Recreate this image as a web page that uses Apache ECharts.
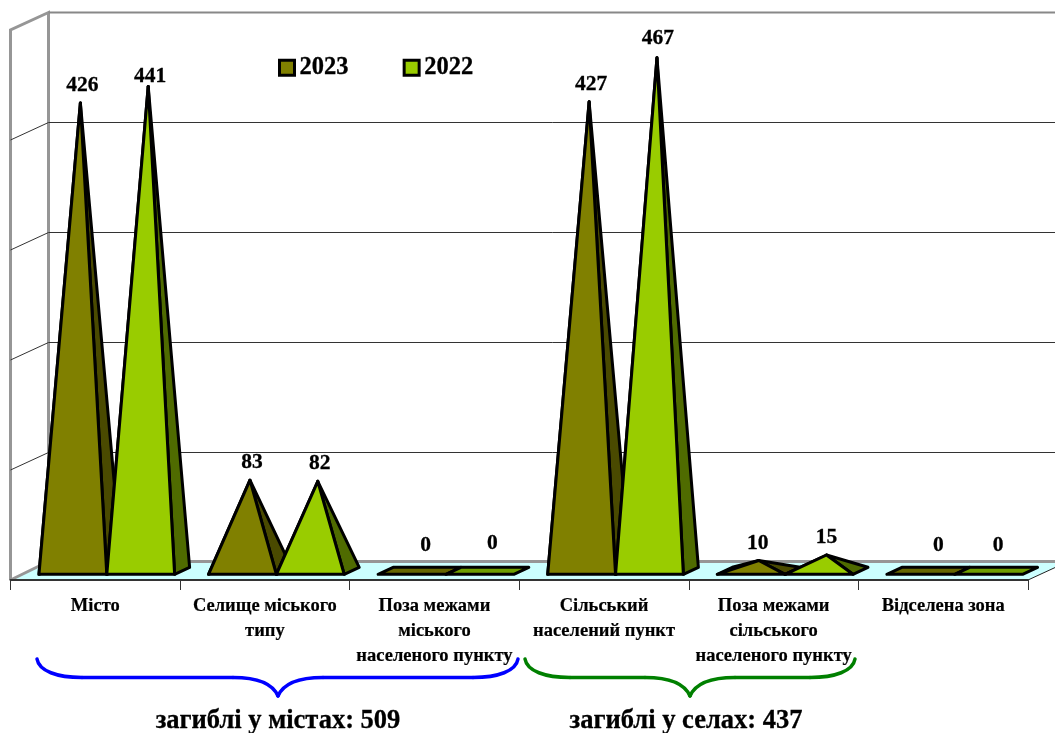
<!DOCTYPE html>
<html>
<head>
<meta charset="utf-8">
<script src="https://cdn.jsdelivr.net/npm/echarts@6/dist/echarts.min.js"></script>
<style>html,body{margin:0;padding:0;background:#fff}#c{width:1055px;height:733px}</style>
</head>
<body>
<div id="c"></div>
<script>
// ---- data ----
const categories = [
  'Місто',
  'Селище міського\nтипу',
  'Поза межами\nміського\nнаселеного пункту',
  'Сільський\nнаселений пункт',
  'Поза межами\nсільського\nнаселеного пункту',
  'Відселена зона'
];
const values2023 = [426, 83, 0, 427, 10, 0];
const values2022 = [441, 82, 0, 467, 15, 0];
const valueTicks = [0, 100, 200, 300, 400, 500];
const groupNotes = ['загиблі у містах: 509', 'загиблі у селах: 437'];

// ---- styling ----
const SERIF = '"Liberation Serif"';
const WALL_DX = 38, WALL_DY = -17.5;
const BASE_DX = 11.5, BASE_DY = -5.7, DEPTH_DX = 15, DEPTH_DY = -7;
const APEX_DX = 7.5, APEX_DY = -8.5;
const labelNudge = {
  '2022-0': [0, 8], '2022-3': [-1, -2],
  '2023-2': [4, -9], '2022-2': [3, -11], '2023-5': [8, -9], '2022-5': [0, -9],
  '2023-4': [-3, 0], '2022-4': [-2, 0]
};
const palette = {
  '2023': {front: '#808000', side: '#4a4a00', flat: '#666600'},
  '2022': {front: '#99cc00', side: '#4f6b00', flat: '#6f9e00'}
};

function wallItem(params, api) {
  const r = params.coordSys;
  const v = api.value(0);
  const y = api.coord([0, v])[1];
  const L = r.x, R = r.x + r.width;
  const children = [];
  if (v === 0) {
    children.push({type: 'polygon', shape: {points: [[L, y], [L + WALL_DX, y + WALL_DY], [R + WALL_DX, y + WALL_DY], [R, y]]},
      style: {fill: '#ccffff', stroke: null}});
    children.push({type: 'polyline', shape: {points: [[L, y], [L + WALL_DX, y + WALL_DY - 1], [R + WALL_DX, y + WALL_DY - 1]]},
      style: {fill: null, stroke: '#969696', lineWidth: 3}});
    children.push({type: 'line', shape: {x1: R, y1: y, x2: R + WALL_DX, y2: y + WALL_DY},
      style: {stroke: '#222', lineWidth: 1}});
    children.push({type: 'polyline', shape: {points: [[L, y], [L, r.y], [L + WALL_DX, r.y + WALL_DY], [L + WALL_DX, y + WALL_DY]]},
      style: {fill: null, stroke: '#969696', lineWidth: 3}});
  } else if (v === 500) {
    children.push({type: 'line', shape: {x1: L + WALL_DX, y1: y + WALL_DY, x2: R + WALL_DX, y2: y + WALL_DY},
      style: {stroke: '#888', lineWidth: 2}});
  } else {
    children.push({type: 'polyline', shape: {points: [[L, y], [L + WALL_DX, y + WALL_DY], [R + WALL_DX, y + WALL_DY]]},
      style: {fill: null, stroke: '#333', lineWidth: 1}});
  }
  return {type: 'group', children};
}

function pyramidRender(name, first) {
  const c = palette[name];
  return function (params, api) {
    const idx = api.value(0), v = api.value(1);
    const p0 = api.coord([idx, 0]);
    const top = api.coord([idx, v]);
    const w = api.size([1, 0])[0] * 0.4;
    const x0 = p0[0] + BASE_DX + (first ? -w : 0);
    const x1 = x0 + w;
    const yf = p0[1] + BASE_DY;
    const yb = yf + DEPTH_DY;
    const ax = (x0 + x1) / 2 + APEX_DX;
    const ay = top[1] + APEX_DY;
    const line = {stroke: '#000', lineWidth: 3, lineJoin: 'round'};
    const poly = (points, fill) => ({type: 'polygon', shape: {points}, style: Object.assign({fill}, line)});
    const children = [];
    if (v === 0) {
      children.push(poly([[x0, yf], [x1, yf], [x1 + DEPTH_DX, yb], [x0 + DEPTH_DX, yb]], c.flat));
    } else {
      children.push(poly([[x0, yf], [x0 + DEPTH_DX, yb], [ax, ay]], c.side));
      children.push(poly([[x1, yf], [x1 + DEPTH_DX, yb], [ax, ay]], c.side));
      children.push(poly([[x0, yf], [x1, yf], [ax, ay]], c.front));
    }
    const nudge = labelNudge[name + '-' + idx] || [0, 0];
    children.push({type: 'text', style: {
      x: ax + 2 + nudge[0], y: ay - 17.5 + nudge[1], text: String(v),
      font: 'bold 21.5px ' + SERIF, fill: '#000', stroke: '#000', lineWidth: 0.3,
      textAlign: 'center', textVerticalAlign: 'middle'
    }});
    return {type: 'group', children};
  };
}

// a curly brace as bezier pieces and straight runs
function brace(x0, xm, x1, color) {
  const style = {fill: null, stroke: color, lineWidth: 3.5, lineCap: 'round'};
  const top = 659, flat = 677.5, tip = 696;
  const curve = (a, b, c, d, e, f, g, h) => ({type: 'bezierCurve', z: 10, silent: true,
    shape: {x1: a, y1: b, cpx1: c, cpy1: d, cpx2: e, cpy2: f, x2: g, y2: h}, style});
  const run = (a, b) => ({type: 'line', z: 10, silent: true, shape: {x1: a, y1: flat, x2: b, y2: flat}, style});
  return [
    curve(x0, top, x0 + 2, top + 12, x0 + 20, flat, x0 + 45, flat),
    run(x0 + 45, xm - 45),
    curve(xm - 45, flat, xm - 20, flat, xm - 5, flat + 7, xm, tip),
    curve(xm, tip, xm + 5, flat + 7, xm + 20, flat, xm + 45, flat),
    run(xm + 45, x1 - 45),
    curve(x1 - 45, flat, x1 - 20, flat, x1 - 2, top + 12, x1, top)
  ];
}

const chart = echarts.init(document.getElementById('c'), null, {renderer: 'canvas'});
chart.setOption({
  animation: false,
  backgroundColor: '#fff',
  grid: {left: 10.5, right: 27, top: 30, bottom: 153, containLabel: false},
  xAxis: {
    type: 'category', data: categories, boundaryGap: true,
    axisLine: {show: true, lineStyle: {color: '#333', width: 2}},
    axisTick: {show: true, length: 10, alignWithLabel: false, lineStyle: {color: '#333', width: 1}},
    axisLabel: {
      interval: 0, margin: 14, lineHeight: 25, verticalAlign: 'top',
      fontFamily: SERIF, fontWeight: 'bold', fontSize: 18.5, color: '#000',
      textBorderColor: '#000', textBorderWidth: 0.2
    },
    z: 5
  },
  yAxis: {type: 'value', min: 0, max: 500, interval: 100, show: false, splitLine: {show: false}},
  legend: {
    left: 278, top: 55, padding: 0, itemWidth: 15, itemHeight: 15, itemGap: 54, icon: 'rect', selectedMode: false,
    textStyle: {fontFamily: SERIF, fontWeight: 'bold', fontSize: 24.5, color: '#000', textBorderColor: '#000', textBorderWidth: 0.3},
    data: [
      {name: '2023', itemStyle: {color: palette['2023'].front, borderColor: '#000', borderWidth: 3}},
      {name: '2022', itemStyle: {color: palette['2022'].front, borderColor: '#000', borderWidth: 3}}
    ]
  },
  series: [
    {type: 'custom', name: 'walls', silent: true, clip: false, z: 1,
      coordinateSystem: 'cartesian2d', renderItem: wallItem,
      encode: {y: 0}, data: valueTicks.map(v => [v])},
    {type: 'custom', name: '2023', silent: true, clip: false, z: 2,
      itemStyle: {color: palette['2023'].front},
      renderItem: pyramidRender('2023', true), encode: {x: 0, y: 1},
      data: values2023.map((v, i) => [i, v])},
    {type: 'custom', name: '2022', silent: true, clip: false, z: 3,
      itemStyle: {color: palette['2022'].front},
      renderItem: pyramidRender('2022', false), encode: {x: 0, y: 1},
      data: values2022.map((v, i) => [i, v])}
  ],
  graphic: [
    ...brace(37, 278, 518, '#0000ff'),
    ...brace(525, 690, 855, '#008000'),
    {type: 'text', z: 10, silent: true, x: 278, y: 721,
      style: {text: groupNotes[0], font: 'bold 26.5px ' + SERIF, fill: '#000', stroke: '#000', lineWidth: 0.3, textAlign: 'center', textVerticalAlign: 'middle'}},
    {type: 'text', z: 10, silent: true, x: 686, y: 721,
      style: {text: groupNotes[1], font: 'bold 26.5px ' + SERIF, fill: '#000', stroke: '#000', lineWidth: 0.3, textAlign: 'center', textVerticalAlign: 'middle'}}
  ]
});
</script>
</body>
</html>
